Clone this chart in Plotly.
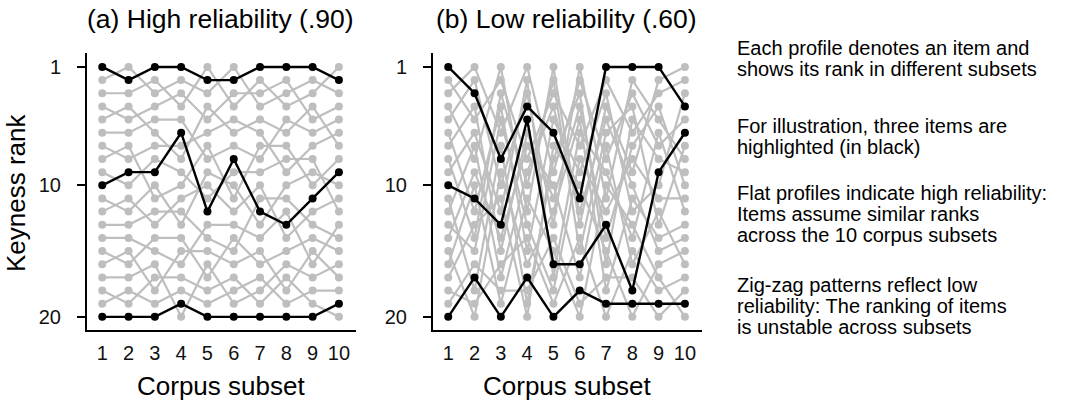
import plotly.graph_objects as go

subsets = list(range(1, 11))

# (a) high reliability: highlighted items
high_black = [
    [1, 2, 1, 1, 2, 2, 1, 1, 1, 2],
    [10, 9, 9, 6, 12, 8, 12, 13, 11, 9],
    [20, 20, 20, 19, 20, 20, 20, 20, 20, 19],
]
# (a) remaining items
high_grey = [
    [2, 1, 3, 2, 3, 1, 4, 3, 2, 3],
    [3, 3, 2, 4, 1, 4, 2, 4, 3, 1],
    [4, 5, 4, 3, 5, 3, 3, 2, 5, 4],
    [5, 4, 6, 8, 4, 6, 5, 6, 4, 7],
    [6, 6, 5, 5, 8, 7, 8, 5, 6, 5],
    [7, 8, 7, 7, 6, 5, 6, 9, 7, 6],
    [8, 7, 11, 10, 7, 11, 7, 7, 10, 8],
    [9, 10, 8, 9, 11, 9, 9, 8, 8, 12],
    [11, 12, 10, 13, 9, 10, 13, 10, 9, 10],
    [12, 11, 13, 11, 10, 12, 10, 14, 12, 11],
    [13, 13, 12, 12, 14, 15, 11, 11, 13, 14],
    [14, 14, 15, 16, 13, 13, 14, 12, 16, 13],
    [15, 16, 14, 14, 17, 14, 16, 15, 14, 15],
    [16, 15, 18, 15, 15, 16, 15, 18, 15, 17],
    [17, 17, 16, 20, 16, 19, 18, 16, 17, 16],
    [18, 19, 17, 17, 18, 17, 19, 17, 19, 20],
    [19, 18, 19, 18, 19, 18, 17, 19, 18, 18],
]

# (b) low reliability: highlighted items
low_black = [
    [1, 3, 8, 4, 6, 11, 1, 1, 1, 4],
    [10, 11, 13, 5, 16, 16, 13, 18, 9, 6],
    [20, 17, 20, 17, 20, 18, 19, 19, 19, 19],
]
# (b) remaining items
low_grey = [
    [2, 5, 2, 8, 3, 7, 2, 6, 3, 2],
    [3, 1, 6, 1, 9, 2, 8, 3, 7, 5],
    [4, 8, 1, 12, 1, 13, 4, 9, 2, 1],
    [5, 2, 10, 3, 13, 1, 11, 2, 5, 8],
    [6, 12, 4, 15, 5, 9, 3, 12, 10, 3],
    [7, 4, 15, 6, 11, 4, 14, 7, 4, 10],
    [8, 14, 3, 10, 2, 15, 6, 4, 13, 7],
    [9, 6, 12, 2, 17, 6, 9, 14, 6, 12],
    [11, 18, 7, 19, 8, 3, 16, 5, 8, 9],
    [12, 7, 17, 9, 4, 12, 5, 10, 15, 14],
    [13, 15, 5, 13, 18, 8, 12, 8, 11, 11],
    [14, 9, 14, 7, 10, 17, 7, 16, 12, 16],
    [15, 20, 9, 16, 12, 5, 18, 11, 14, 13],
    [16, 10, 19, 11, 15, 20, 10, 13, 17, 20],
    [17, 13, 11, 20, 7, 10, 15, 20, 16, 15],
    [18, 19, 16, 14, 19, 14, 20, 15, 18, 17],
    [19, 16, 18, 18, 14, 19, 17, 17, 20, 18],
]

titles = ["(a) High reliability (.90)", "(b) Low reliability (.60)"]
notes = [
    ["Each profile denotes an item and", "shows its rank in different subsets"],
    ["For illustration, three items are", "highlighted (in black)"],
    ["Flat profiles indicate high reliability:", "Items assume similar ranks", "across the 10 corpus subsets"],
    ["Zig-zag patterns reflect low", "reliability: The ranking of items", "is unstable across subsets"],
]

W, H = 1069, 405
FONT = "Liberation Sans, Arial, sans-serif"
GREY = "#bebebe"


def px(x):
    return x / W


def py(y):
    return 1 - y / H


fig = go.Figure()

panels = [(high_grey, high_black), (low_grey, low_black)]
for k, (grey, black) in enumerate(panels):
    xa = "x" if k == 0 else "x2"
    ya = "y" if k == 0 else "y2"
    for ranks in grey:
        fig.add_trace(go.Scatter(x=subsets, y=ranks, mode="lines+markers", xaxis=xa, yaxis=ya,
                                 line=dict(color=GREY, width=2.2), marker=dict(color=GREY, size=8),
                                 showlegend=False, hoverinfo="skip"))
    for ranks in black:
        fig.add_trace(go.Scatter(x=subsets, y=ranks, mode="lines+markers", xaxis=xa, yaxis=ya,
                                 line=dict(color="black", width=2.4), marker=dict(color="black", size=8),
                                 showlegend=False, hoverinfo="skip"))

x_dom = [[px(87), px(356)], [px(433), px(702)]]
y_dom = [py(330), py(53)]
centers = [221, 567]

axis_common = dict(showline=True, linecolor="black", linewidth=2, showgrid=False, zeroline=False,
                   automargin=False, tickfont=dict(size=20, color="#111"))

for k in range(2):
    sfx = "" if k == 0 else "2"
    fig.layout["xaxis" + sfx] = dict(axis_common, domain=x_dom[k], range=[0.42, 10.65],
                                     tickvals=subsets, ticks="", ticklabelstandoff=4, anchor="y" + sfx)
    fig.layout["yaxis" + sfx] = dict(axis_common, domain=y_dom, range=[21.0, -0.06],
                                     tickvals=[1, 10, 20], ticks="outside", ticklen=8, tickwidth=2,
                                     tickcolor="black", ticklabelstandoff=12, anchor="x" + sfx)
    fig.add_annotation(text=titles[k], x=px(centers[k] - 1), y=py(19), xref="paper", yref="paper",
                       xanchor="center", yanchor="middle", showarrow=False,
                       font=dict(size=26.5, color="black"))
    fig.add_annotation(text="Corpus subset", x=px(centers[k]), y=py(386), xref="paper", yref="paper",
                       xanchor="center", yanchor="middle", showarrow=False,
                       font=dict(size=26, color="black"))

fig.add_annotation(text="Keyness rank", x=px(16), y=py(193), xref="paper", yref="paper",
                   xanchor="center", yanchor="middle", textangle=-90, showarrow=False,
                   font=dict(size=26, color="black"))

note_y = [[47, 68], [125, 146], [192, 213, 234], [284, 305, 326]]
for block, ys in zip(notes, note_y):
    for line, yy in zip(block, ys):
        fig.add_annotation(text=line, x=px(735), y=py(yy + 1), xref="paper", yref="paper",
                           xanchor="left", yanchor="middle", align="left", showarrow=False,
                           font=dict(size=20, color="black"))

fig.update_layout(width=W, height=H, margin=dict(l=0, r=0, t=0, b=0),
                  paper_bgcolor="white", plot_bgcolor="white",
                  font=dict(family=FONT, color="black"))

# drop the browser's default 8px body margin so the figure fills the window
fig.write_html("out.html", config={"displayModeBar": False},
               post_script="document.body.style.margin = '0';")
